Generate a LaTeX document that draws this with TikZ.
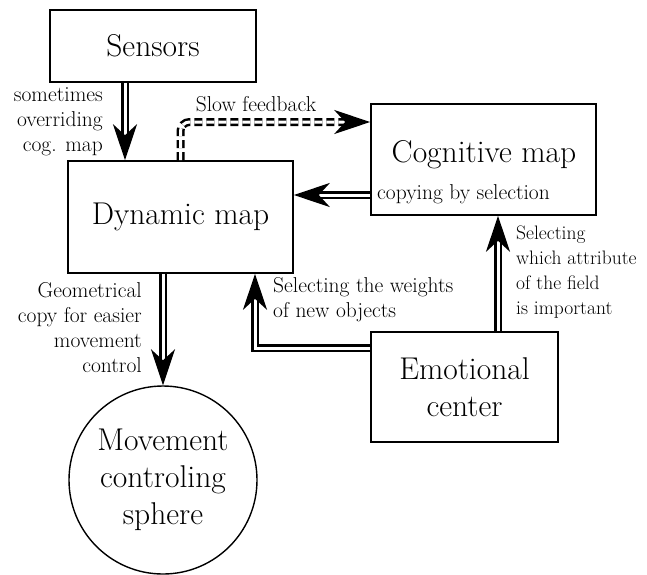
\documentclass[tikz,border=0pt]{standalone}
\usepackage{fontspec}
\usepackage{tikz}
\usetikzlibrary{positioning}
\usetikzlibrary{arrows.meta,calc}
\tikzstyle{box}=[rectangle,draw,line width=1.6pt,inner sep=0pt,font=\fontsize{31.5}{37}\selectfont,align=center]
\tikzstyle{sphere}=[circle,draw,line width=1.4pt,minimum size=188pt,inner sep=0pt,font=\fontsize{31.5}{37}\selectfont,align=center]
\tikzstyle{edge} = [draw,line width=2.5pt,double,double distance=3pt,-{Stealth[length=36pt,width=24pt,inset=11pt]}]
\tikzstyle{slowedge} = [edge,dash pattern=on 8pt off 4pt]
\tikzstyle{note} = [font=\fontsize{21.5}{25}\selectfont,inner sep=0pt]

\begin{document}
\begin{tikzpicture}[x=1pt,y=-1pt]
  \useasboundingbox (0,0) rectangle (647,574);

  % the boxes
  \node[box,minimum width=206pt,minimum height=72pt] (sensors) at (153,46) {Sensors};
  \node[box,minimum width=225pt,minimum height=112pt] (dyn) at (180.5,217) {Dynamic map};
  \node[box,minimum width=225pt,minimum height=111pt] (cog) at (483.5,159.5) {};
  \node[box,minimum width=187pt,minimum height=110pt] (emot) at (464.5,387) {Emotional\\center};
  \node[sphere] (move) at (163,480) {Movement\\controling\\sphere};
  \node[font=\fontsize{31.5}{37}\selectfont] (cogtitle) at (484,155) {Cognitive map};

  % connections
  \path[edge] ([xshift=-28pt]sensors.south) -- ([xshift=-28pt]sensors.south |- dyn.north);
  \path[slowedge,rounded corners=9pt] (dyn.north) |- ([yshift=37.5pt]cog.west);
  \path[edge] ([yshift=-35.5pt]cog.west) -- ([yshift=-35.5pt]cog.west -| dyn.east);
  \path[edge] ([yshift=39pt]emot.west) -| ([xshift=74.5pt]dyn.south);
  \path[edge] ([xshift=33.5pt]emot.north) -- ([xshift=33.5pt]emot.north |- cog.south);
  \path[edge] (dyn.south -| move.north) -- (move.north);

  % labels
  \node[note,align=right,anchor=east] (lsens) at (103,122) {sometimes\\overriding\\cog. map};
  \node[note] (lslow) at (256,104) {Slow feedback};
  \node[note,anchor=west] (lcopy) at (377,194) {copying by selection};
  \node[note,align=right,anchor=east] (lgeo) at (142,328) {Geometrical\\copy for easier\\movement\\control};
  \node[note,align=left,anchor=west] (lweights) at (273,300) {Selecting the weights\\of new objects};
  \node[note,font=\fontsize{19.5}{25}\selectfont,align=left,anchor=west] (lattr) at (516,272) {Selecting\\which attribute\\of the field\\is important};
\end{tikzpicture}
\end{document}
